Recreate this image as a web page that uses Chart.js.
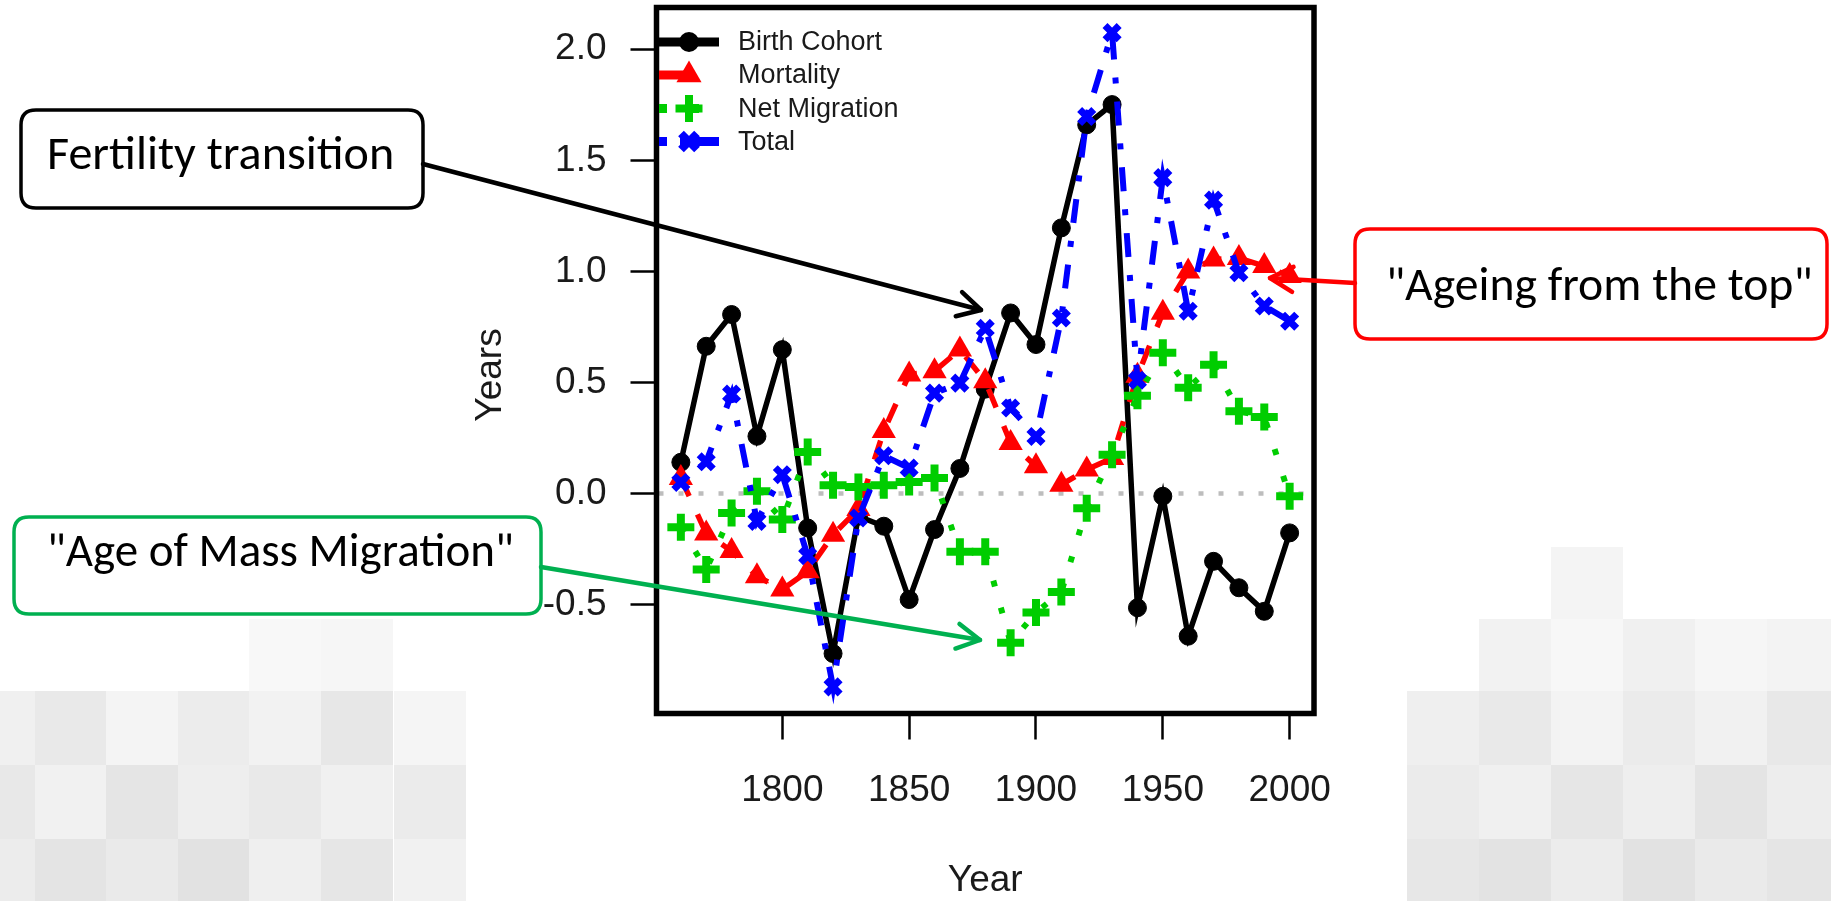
<!DOCTYPE html>
<html><head><meta charset="utf-8">
<script src="https://cdn.jsdelivr.net/npm/chart.js@4.4.1/dist/chart.umd.min.js"></script>
<style>
html,body{margin:0;padding:0;background:#fff;width:1831px;height:901px;overflow:hidden;}
#wrap{position:relative;width:1831px;height:901px;}
#bg{position:absolute;left:0;top:0;width:1831px;height:901px;}
.tile{position:absolute;}
#c{position:absolute;left:0;top:0;}
</style></head><body>
<div id="wrap"><div id="bg"></div><canvas id="c" width="1831" height="901" style="width:1831px;height:901px"></canvas></div>
<script>
// ---------- data ----------
const years = [1760,1770,1780,1790,1800,1810,1820,1830,1840,1850,1860,1870,1880,1890,1900,1910,1920,1930,1940,1950,1960,1970,1980,1990,2000];
const birthCohort = [0.141,0.663,0.806,0.258,0.648,-0.155,-0.72,-0.102,-0.147,-0.477,-0.162,0.113,0.47,0.813,0.671,1.196,1.66,1.751,-0.514,-0.012,-0.642,-0.305,-0.424,-0.53,-0.177];
const mortality = [0.07,-0.18,-0.259,-0.372,-0.432,-0.35,-0.185,-0.07,0.282,0.536,0.551,0.648,0.506,0.228,0.123,0.04,0.108,0.16,0.53,0.814,1.0,1.054,1.06,1.024,0.979];
const netMigration = [-0.152,-0.342,-0.087,0.01,-0.117,0.187,0.037,0.03,0.037,0.052,0.07,-0.262,-0.262,-0.672,-0.535,-0.443,-0.066,0.175,0.44,0.634,0.476,0.58,0.371,0.345,-0.012];
const total = [0.05,0.143,0.448,-0.125,0.085,-0.28,-0.87,-0.11,0.17,0.115,0.452,0.497,0.744,0.385,0.257,0.79,1.697,2.075,0.51,1.422,0.821,1.321,0.994,0.844,0.776];
const seriesNames = ['Birth Cohort','Mortality','Net Migration','Total'];
const xTicks = [1800,1850,1900,1950,2000];
const yTicks = [-0.5,0,0.5,1,1.5,2];
const xTitle = 'Year';
const yTitle = 'Years';
const notes = ['Fertility transition','"Ageing from the top"','"Age of Mass Migration"'];

// ---------- decorative background tiles ----------
const leftTileX = [-37,35,106,178,249,321,394];
const leftTileY = [619,691,765,839];
const leftShades = [
 [null,null,null,null,'#f8f8f8','#f6f6f6',null],
 ['#f0f0f0','#e9e9e9','#f4f4f4','#ececec','#f2f2f2','#e7e7e7','#f5f5f5'],
 ['#e8e8e8','#f1f1f1','#e5e5e5','#eeeeee','#e9e9e9','#f0f0f0','#ebebeb'],
 ['#ececec','#e4e4e4','#eaeaea','#e2e2e2','#efefef','#e6e6e6','#f1f1f1']];
const rightTileX = [1407,1479,1551,1623,1695,1767];
const rightTileY = [547,619,691,765,839];
const rightShades = [
 [null,null,'#f4f4f4',null,null,null],
 [null,'#f2f2f2','#f7f7f7','#f0f0f0','#f6f6f6','#f3f3f3'],
 ['#efefef','#e9e9e9','#f3f3f3','#ebebeb','#f1f1f1','#e8e8e8'],
 ['#ebebeb','#f0f0f0','#e6e6e6','#eeeeee','#e4e4e4','#ededed'],
 ['#e7e7e7','#e3e3e3','#ececec','#e2e2e2','#eaeaea','#e5e5e5']];
function addTiles(xs, ys, shades){
  const bg = document.getElementById('bg');
  shades.forEach((row,r)=>row.forEach((c,k)=>{
    if(!c) return;
    const d=document.createElement('div'); d.className='tile';
    d.style.left=xs[k]+'px'; d.style.top=ys[r]+'px';
    d.style.width='72px'; d.style.height=(r<ys.length-1? ys[r+1]-ys[r] : 72)+'px';
    d.style.background=c; bg.appendChild(d);
  }));
}
addTiles(leftTileX,leftTileY,leftShades);
addTiles(rightTileX,rightTileY,rightShades);

// ---------- chart ----------
const FONT = "'Liberation Sans', Arial, Helvetica, sans-serif";
const NOTE_FONT = "Carlito, Lato, 'Liberation Sans', sans-serif";
const pts = arr => years.map((y,i)=>({x:y, y:arr[i]}));

const zeroLine = {
  id:'zeroLine',
  beforeDatasetsDraw(chart){
    const {ctx, chartArea:a, scales:{y}} = chart;
    const py = y.getPixelForValue(0);
    ctx.save();
    ctx.strokeStyle='#bdbdbd'; ctx.lineWidth=4.5; ctx.setLineDash([5,15]);
    ctx.beginPath(); ctx.moveTo(a.left+2, py); ctx.lineTo(a.right, py); ctx.stroke();
    ctx.restore();
  }
};

function roundRect(ctx,x,y,w,h,r){
  ctx.beginPath();
  ctx.moveTo(x+r,y); ctx.lineTo(x+w-r,y); ctx.quadraticCurveTo(x+w,y,x+w,y+r);
  ctx.lineTo(x+w,y+h-r); ctx.quadraticCurveTo(x+w,y+h,x+w-r,y+h);
  ctx.lineTo(x+r,y+h); ctx.quadraticCurveTo(x,y+h,x,y+h-r);
  ctx.lineTo(x,y+r); ctx.quadraticCurveTo(x,y,x+r,y); ctx.closePath();
}
function arrow(ctx,x1,y1,x2,y2,color,w){
  ctx.save();
  ctx.strokeStyle=color; ctx.lineWidth=w; ctx.lineCap='round'; ctx.lineJoin='round';
  ctx.beginPath(); ctx.moveTo(x1,y1); ctx.lineTo(x2,y2); ctx.stroke();
  const ang=Math.atan2(y2-y1,x2-x1), L=26, s=0.5;
  ctx.beginPath();
  ctx.moveTo(x2+Math.cos(ang+Math.PI-s)*L, y2+Math.sin(ang+Math.PI-s)*L);
  ctx.lineTo(x2,y2);
  ctx.lineTo(x2+Math.cos(ang+Math.PI+s)*L, y2+Math.sin(ang+Math.PI+s)*L);
  ctx.stroke();
  ctx.restore();
}
function fitText(ctx,text,x,baseline,targetW,color){
  ctx.save();
  ctx.font = "48px "+NOTE_FONT;
  const w = ctx.measureText(text).width;
  const size = 48*targetW/w;
  ctx.font = size.toFixed(1)+"px "+NOTE_FONT;
  ctx.fillStyle=color; ctx.textAlign='left'; ctx.textBaseline='alphabetic';
  ctx.fillText(text,x,baseline);
  ctx.restore();
}
function legendMark(ctx,style,x,y,color){
  ctx.save(); ctx.fillStyle=color; ctx.strokeStyle=color;
  if(style==='circle'){ ctx.beginPath(); ctx.arc(x,y,10,0,Math.PI*2); ctx.fill(); }
  else if(style==='triangle'){ const r=14.5; ctx.beginPath();
    ctx.moveTo(x,y-r); ctx.lineTo(x+r*0.866,y+r/2); ctx.lineTo(x-r*0.866,y+r/2); ctx.closePath(); ctx.fill(); }
  else if(style==='cross'){ ctx.lineWidth=8; const r=13.5; ctx.beginPath();
    ctx.moveTo(x-r,y); ctx.lineTo(x+r,y); ctx.moveTo(x,y-r); ctx.lineTo(x,y+r); ctx.stroke(); }
  else { ctx.lineWidth=8; const r=8; ctx.beginPath();
    ctx.moveTo(x-r,y-r); ctx.lineTo(x+r,y+r); ctx.moveTo(x+r,y-r); ctx.lineTo(x-r,y+r); ctx.stroke(); }
  ctx.restore();
}

const overlay = {
  id:'overlay',
  afterDraw(chart){
    const {ctx, chartArea:a} = chart;
    // plot frame
    ctx.save(); ctx.strokeStyle='#000'; ctx.lineWidth=5.5;
    ctx.strokeRect(a.left,a.top,a.right-a.left,a.bottom-a.top); ctx.restore();
    // y axis title
    ctx.save(); ctx.translate(491, 375); ctx.rotate(-Math.PI/2);
    ctx.font='37px '+FONT; ctx.fillStyle='#1a1a1a'; ctx.textAlign='center'; ctx.textBaseline='middle';
    ctx.fillText(yTitle,0,0); ctx.restore();
    // legend (R style, inside top-left)
    const ds = chart.data.datasets;
    const rowsY=[42,75,108.5,141.5];
    [0,1,2,3].forEach((k,i)=>{
      const d=ds[k], y=rowsY[i];
      ctx.save();
      ctx.beginPath(); ctx.rect(659,y-15,60,30); ctx.clip();
      ctx.strokeStyle=d.borderColor; ctx.lineWidth=9;
      ctx.setLineDash(d.legendDash||[]);
      ctx.beginPath(); ctx.moveTo(659,y); ctx.lineTo(719,y); ctx.stroke();
      ctx.restore();
      legendMark(ctx,d.pointStyle,689,y,d.borderColor);
      ctx.save(); ctx.fillStyle='#1a1a1a'; ctx.font='27px '+FONT;
      ctx.textAlign='left'; ctx.textBaseline='middle';
      ctx.fillText(seriesNames[k],738,y+1); ctx.restore();
    });
    // annotation boxes
    ctx.save(); ctx.lineWidth=3.5;
    roundRect(ctx,21,110,402,98,15); ctx.fillStyle='#fff'; ctx.fill(); ctx.strokeStyle='#000'; ctx.stroke();
    roundRect(ctx,1355,229,472,110,15); ctx.fillStyle='#fff'; ctx.fill(); ctx.strokeStyle='#ff0000'; ctx.stroke();
    roundRect(ctx,14,517,527,97,15); ctx.fillStyle='#fff'; ctx.fill(); ctx.strokeStyle='#00b050'; ctx.stroke();
    ctx.restore();
    fitText(ctx,notes[0],47,169,347,'#000');
    fitText(ctx,notes[1],1386,300,427,'#000');
    fitText(ctx,notes[2],47,566,467,'#000');
    // arrows
    arrow(ctx,423,164,981,310,'#000',4.5);
    arrow(ctx,1355,283,1270,278,'#ff0000',4.5);
    arrow(ctx,541,567,980,640,'#00b050',4.5);
  }
};

new Chart(document.getElementById('c'), {
  type:'line',
  data:{ datasets:[
    {label:seriesNames[0], data:pts(birthCohort), borderColor:'#000000', backgroundColor:'#000000',
     borderWidth:5.5, pointStyle:'circle', pointRadius:9, pointBorderWidth:1,
     pointBackgroundColor:'#000000', pointBorderColor:'#000000', order:4, legendDash:[]},
    {label:seriesNames[1], data:pts(mortality), borderColor:'#ff0000', backgroundColor:'#ff0000',
     borderWidth:5.5, borderDash:[20,20], pointStyle:'triangle', pointRadius:14, pointBorderWidth:0,
     pointBackgroundColor:'#ff0000', pointBorderColor:'#ff0000', order:3, legendDash:[30,30]},
    {label:seriesNames[2], data:pts(netMigration), borderColor:'#00cd00', backgroundColor:'#00cd00',
     borderWidth:6, borderDash:[6,22], pointStyle:'cross', pointRadius:13.5, pointBorderWidth:8,
     pointBackgroundColor:'#00cd00', pointBorderColor:'#00cd00', order:2, legendDash:[8,24]},
    {label:seriesNames[3], data:pts(total), borderColor:'#0000ff', backgroundColor:'#0000ff',
     borderWidth:6, borderDash:[6,18,24,18], pointStyle:'crossRot', pointRadius:10, pointBorderWidth:7,
     pointBackgroundColor:'#0000ff', pointBorderColor:'#0000ff', order:1, legendDash:[8,13,40,20]}
  ]},
  options:{
    responsive:false, animation:false, devicePixelRatio:1,
    layout:{autoPadding:false, padding:{left:0, top:7.5, right:517, bottom:0}},
    elements:{line:{tension:0, fill:false}},
    plugins:{legend:{display:false}, tooltip:{enabled:false}},
    scales:{
      x:{type:'linear', min:1750.4, max:2009.6,
        afterBuildTicks:s=>{ s.ticks = xTicks.map(v=>({value:v})); },
        afterFit:s=>{ s.height = 187.5; s.paddingLeft=0; s.paddingRight=0; },
        grid:{display:true, drawOnChartArea:false, drawTicks:true, tickLength:26, tickWidth:2.5, tickColor:'#000'},
        border:{display:false},
        ticks:{font:{family:FONT,size:37}, color:'#1a1a1a', padding:29, maxRotation:0, autoSkip:false, callback:v=>String(v)},
        title:{display:true, text:xTitle, font:{family:FONT,size:37}, color:'#1a1a1a', padding:{top:0,bottom:-2}}
      },
      y:{type:'linear', min:-0.99, max:2.188,
        afterBuildTicks:s=>{ s.ticks = yTicks.map(v=>({value:v})); },
        afterFit:s=>{ s.width = 656.5; s.paddingTop=0; s.paddingBottom=0; },
        grid:{display:true, drawOnChartArea:false, drawTicks:true, tickLength:26, tickWidth:2.5, tickColor:'#000'},
        border:{display:false},
        ticks:{font:{family:FONT,size:37}, color:'#1a1a1a', padding:24, autoSkip:false, callback:v=>Number(v).toFixed(1)},
        title:{display:false, text:yTitle}
      }
    }
  },
  plugins:[zeroLine, overlay]
});
</script>
</body></html>
